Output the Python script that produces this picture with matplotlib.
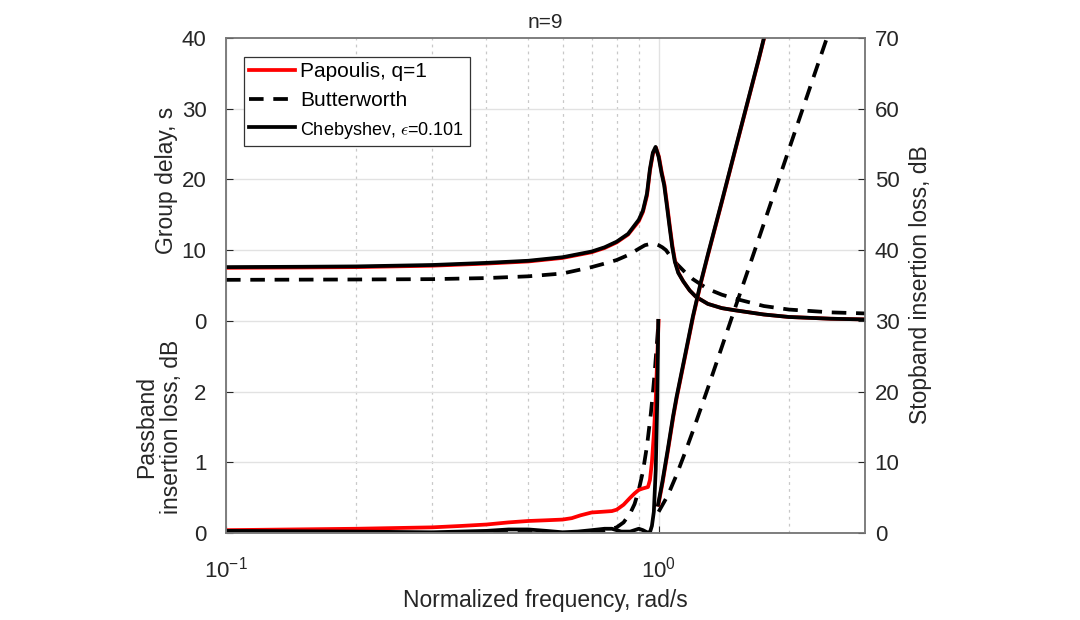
import numpy as np
import matplotlib
matplotlib.use('Agg')
import matplotlib.pyplot as plt
from matplotlib.ticker import LogLocator, NullFormatter, FixedLocator

plt.rcParams['font.family'] = ['Liberation Sans', 'DejaVu Sans']
plt.rcParams['mathtext.fontset'] = 'custom'
plt.rcParams['mathtext.rm'] = 'Liberation Sans'
plt.rcParams['mathtext.it'] = 'Liberation Sans:italic'
plt.rcParams['lines.scale_dashes'] = False

# ---------------- data ----------------
# Group delay, s
gd_f_cheb = [0.1, 0.15, 0.2, 0.3, 0.4, 0.5, 0.6, 0.7, 0.75, 0.8, 0.85, 0.9, 0.92, 0.94, 0.955,
             0.97, 0.984, 1.0, 1.015, 1.03, 1.045, 1.06, 1.075, 1.09, 1.11, 1.14, 1.18, 1.22,
             1.3, 1.4, 1.5, 1.75, 2.0, 2.5, 3.0]
gd_cheb = [7.6, 7.65, 7.7, 7.9, 8.2, 8.5, 9.0, 9.8, 10.4, 11.2, 12.3, 14.3, 15.6, 18.0, 21.5,
           23.8, 24.6, 23.2, 21.0, 19.2, 16.3, 13.3, 10.5, 8.4, 6.8, 5.6, 4.3, 3.4,
           2.4, 1.8, 1.5, 0.9, 0.55, 0.3, 0.2]
gd_f_pap = [0.1, 0.15, 0.2, 0.3, 0.4, 0.5, 0.6, 0.7, 0.75, 0.8, 0.85, 0.9, 0.92, 0.94, 0.955,
            0.97, 0.986, 1.002, 1.017, 1.032, 1.047, 1.062, 1.077, 1.092, 1.112, 1.14, 1.18, 1.22,
            1.3, 1.4, 1.5, 1.75, 2.0, 2.5, 3.0]
gd_pap = [7.5, 7.55, 7.6, 7.8, 8.1, 8.4, 8.9, 9.7, 10.3, 11.1, 12.2, 14.1, 15.4, 17.7, 21.2,
          23.6, 24.5, 23.2, 21.0, 19.2, 16.3, 13.3, 10.5, 8.4, 6.8, 5.6, 4.3, 3.4,
          2.4, 1.8, 1.5, 0.9, 0.55, 0.3, 0.2]
gd_f_butt = [0.1, 0.2, 0.3, 0.4, 0.5, 0.6, 0.7, 0.75, 0.8, 0.85, 0.9, 0.93, 0.96, 0.98, 1.0,
             1.02, 1.04, 1.06, 1.1, 1.15, 1.2, 1.3, 1.4, 1.5, 1.75, 2.0, 2.5, 3.0]
gd_butt = [5.8, 5.85, 5.9, 6.05, 6.3, 6.7, 7.6, 8.1, 8.6, 9.3, 10.2, 10.7, 10.9, 10.9, 10.7,
           10.4, 10.0, 9.3, 8.1, 6.9, 5.9, 4.5, 3.7, 3.15, 2.1, 1.6, 1.2, 1.05]

# Passband insertion loss, dB
pb_f_pap = [0.1, 0.2, 0.3, 0.35, 0.4, 0.45, 0.5, 0.55, 0.6, 0.63, 0.66, 0.7, 0.74, 0.78, 0.8,
            0.83, 0.86, 0.88, 0.9, 0.92, 0.945, 0.955, 0.965, 0.975, 0.985, 0.993, 1.0]
pb_pap = [0.04, 0.06, 0.08, 0.10, 0.12, 0.15, 0.17, 0.18, 0.19, 0.21, 0.25, 0.29, 0.30, 0.31, 0.33,
          0.40, 0.50, 0.56, 0.61, 0.63, 0.65, 0.75, 1.0, 1.4, 1.9, 2.5, 3.0]
pb_f_butt = [0.1, 0.3, 0.5, 0.6, 0.7, 0.75, 0.8, 0.83, 0.86, 0.88, 0.9, 0.92, 0.94, 0.96, 0.97,
             0.98, 0.99, 1.0]
pb_butt = [0.0, 0.0, 0.0, 0.0, 0.01, 0.03, 0.08, 0.15, 0.28, 0.41, 0.61, 0.87, 1.23, 1.70, 1.98,
           2.29, 2.65, 3.0]
pb_f_cheb = [0.1, 0.2, 0.3, 0.4, 0.45, 0.5, 0.55, 0.6, 0.65, 0.7, 0.75, 0.78, 0.82, 0.86, 0.9,
             0.92, 0.94, 0.955, 0.965, 0.975, 0.985, 0.993, 0.998]
pb_cheb = [0.03, 0.02, 0.01, 0.03, 0.05, 0.05, 0.03, 0.01, 0.02, 0.04, 0.06, 0.06, 0.02, 0.02, 0.06,
           0.04, 0.01, 0.01, 0.1, 0.3, 0.9, 1.9, 3.0]

# Stopband insertion loss, dB
sb_f_cheb = [0.997, 1.02, 1.05, 1.08, 1.1, 1.15, 1.2, 1.25, 1.3, 1.4, 1.5, 1.6, 1.7, 1.76]
sb_cheb = [4.0, 7.2, 11.8, 16.5, 19.2, 25.0, 30.6, 35.3, 39.4, 46.9, 54.0, 60.6, 66.8, 70.5]
sb_f_pap = [0.999, 1.022, 1.052, 1.082, 1.102, 1.152, 1.202, 1.252, 1.302, 1.402, 1.502, 1.602,
            1.702, 1.762]
sb_pap = [4.0, 7.2, 11.8, 16.5, 19.2, 25.0, 30.6, 35.3, 39.4, 46.9, 54.0, 60.6, 66.8, 70.5]
sb_f_butt = [1.0, 1.05, 1.1, 1.15, 1.2, 1.3, 1.4, 1.5, 1.6, 1.75, 2.0, 2.25, 2.5]
sb_butt = [3.0, 5.3, 8.2, 11.3, 14.4, 20.5, 26.3, 31.7, 36.7, 43.7, 54.2, 63.4, 71.6]

labels = ['Papoulis, q=1', 'Butterworth', r'Chebyshev, $\epsilon$=0.101']

# ---------------- figure ----------------
W, H = 1080, 620
fig = plt.figure(figsize=(W / 100, H / 100), dpi=100)
L, R, T, B = 226, 865, 38, 533
rect = [L / W, 1 - B / H, (R - L) / W, (B - T) / H]

tick_col = '#262626'
spine_col = '#7a7a7a'
grid_col = '#e2e2e2'
red = '#ff0000'
lw = 2.7
dash = (10.5, 7)
lab_fs = 16.5

# passband axes (bottom-most, carries the grid)
ax = fig.add_axes(rect)
ax.set_xscale('log')
ax.set_xlim(0.1, 3.0)
ax.set_ylim(0, 7)
ax.set_yticks([0, 1, 2])
ax.yaxis.set_minor_locator(FixedLocator([3, 4, 5, 6]))
ax.yaxis.set_minor_formatter(NullFormatter())
ax.xaxis.set_major_locator(LogLocator(base=10, numticks=10))
ax.xaxis.set_minor_locator(LogLocator(base=10, subs=np.arange(2, 10), numticks=10))
ax.xaxis.set_minor_formatter(NullFormatter())
ax.set_axisbelow(True)
ax.xaxis.grid(True, which='major', color=grid_col, lw=1.0, ls='-')
ax.xaxis.grid(True, which='minor', color='#c8c8c8', lw=0.9, ls=(0, (2, 3)))
ax.yaxis.grid(True, which='major', color=grid_col, lw=1.0, ls='-')
ax.yaxis.grid(True, which='minor', color=grid_col, lw=1.0, ls='-')
ax.tick_params(which='major', direction='in', length=5, width=0.8, colors=tick_col,
               labelsize=16, right=False, top=False)
ax.tick_params(axis='y', which='major', pad=14)
ax.tick_params(axis='x', which='major', pad=17)
ax.tick_params(which='minor', length=0)
for s in ax.spines.values():
    s.set_color(spine_col)
    s.set_linewidth(1.1)

ax.plot(pb_f_butt, pb_butt, color='black', lw=lw, dashes=dash)
ax.plot(pb_f_pap, pb_pap, color=red, lw=lw)
ax.plot(pb_f_cheb, pb_cheb, color='black', lw=lw)

# group delay axes
ax_gd = fig.add_axes(rect, sharex=ax)
ax_gd.patch.set_visible(False)
ax_gd.set_ylim(-30, 40)
ax_gd.set_yticks([0, 10, 20, 30, 40])
ax_gd.tick_params(axis='x', which='both', bottom=False, labelbottom=False, top=False)
ax_gd.tick_params(axis='y', which='major', direction='in', length=5, width=0.8,
                  colors=tick_col, labelsize=16, pad=14)
for s in ax_gd.spines.values():
    s.set_visible(False)

h_b, = ax_gd.plot(gd_f_butt, gd_butt, color='black', lw=lw, dashes=dash)
h_p, = ax_gd.plot(gd_f_pap, gd_pap, color=red, lw=lw)
h_c, = ax_gd.plot(gd_f_cheb, gd_cheb, color='black', lw=lw)

# stopband axes (right)
ax_sb = ax.twinx()
ax_sb.set_ylim(0, 70)
ax_sb.set_yticks(np.arange(0, 71, 10))
ax_sb.tick_params(axis='y', direction='in', length=5, width=0.8, colors=tick_col,
                  labelsize=16, pad=7)
for s in ax_sb.spines.values():
    s.set_color(spine_col)
    s.set_linewidth(1.1)

ax_sb.plot(sb_f_butt, sb_butt, color='black', lw=lw, dashes=dash)
ax_sb.plot(sb_f_pap, sb_pap, color=red, lw=lw)
ax_sb.plot(sb_f_cheb, sb_cheb, color='black', lw=lw)

# legend
leg = ax_sb.legend([h_p, h_b, h_c], labels, loc='upper left',
                   bbox_to_anchor=((244 - L) / (R - L), (B - 57) / (B - T)),
                   borderaxespad=0, fontsize=15, fancybox=False, framealpha=1,
                   edgecolor='#333333', handlelength=2.2, handletextpad=0.25,
                   labelspacing=0.46, borderpad=0.26)
leg.get_frame().set_linewidth(0.9)
leg.get_texts()[2].set_fontsize(13)
leg.get_texts()[2].set_math_fontfamily('cm')
for t in leg.get_texts():
    t.set_color('black')

# labels and title
txt_col = '#262626'
fig.text(545 / W, 1 - 28 / H, 'n=9', ha='center', va='baseline', fontsize=15, color=txt_col)
fig.text(545.5 / W, 1 - 607 / H, 'Normalized frequency, rad/s', ha='center', va='baseline',
         fontsize=lab_fs, color=txt_col)
fig.text(166 / W, 1 - 180 / H, 'Group delay, s', ha='center', va='center', rotation=90,
         fontsize=lab_fs, color=txt_col)
fig.text(159 / W, 1 - 427 / H, 'Passband\ninsertion loss, dB', ha='center', va='center',
         rotation=90, fontsize=lab_fs, color=txt_col, multialignment='center', linespacing=1.1)
fig.text(921 / W, 1 - 285 / H, 'Stopband insertion loss, dB', ha='center', va='center',
         rotation=90, fontsize=lab_fs, color=txt_col)

fig.savefig('out.png', dpi=100, facecolor='white')
